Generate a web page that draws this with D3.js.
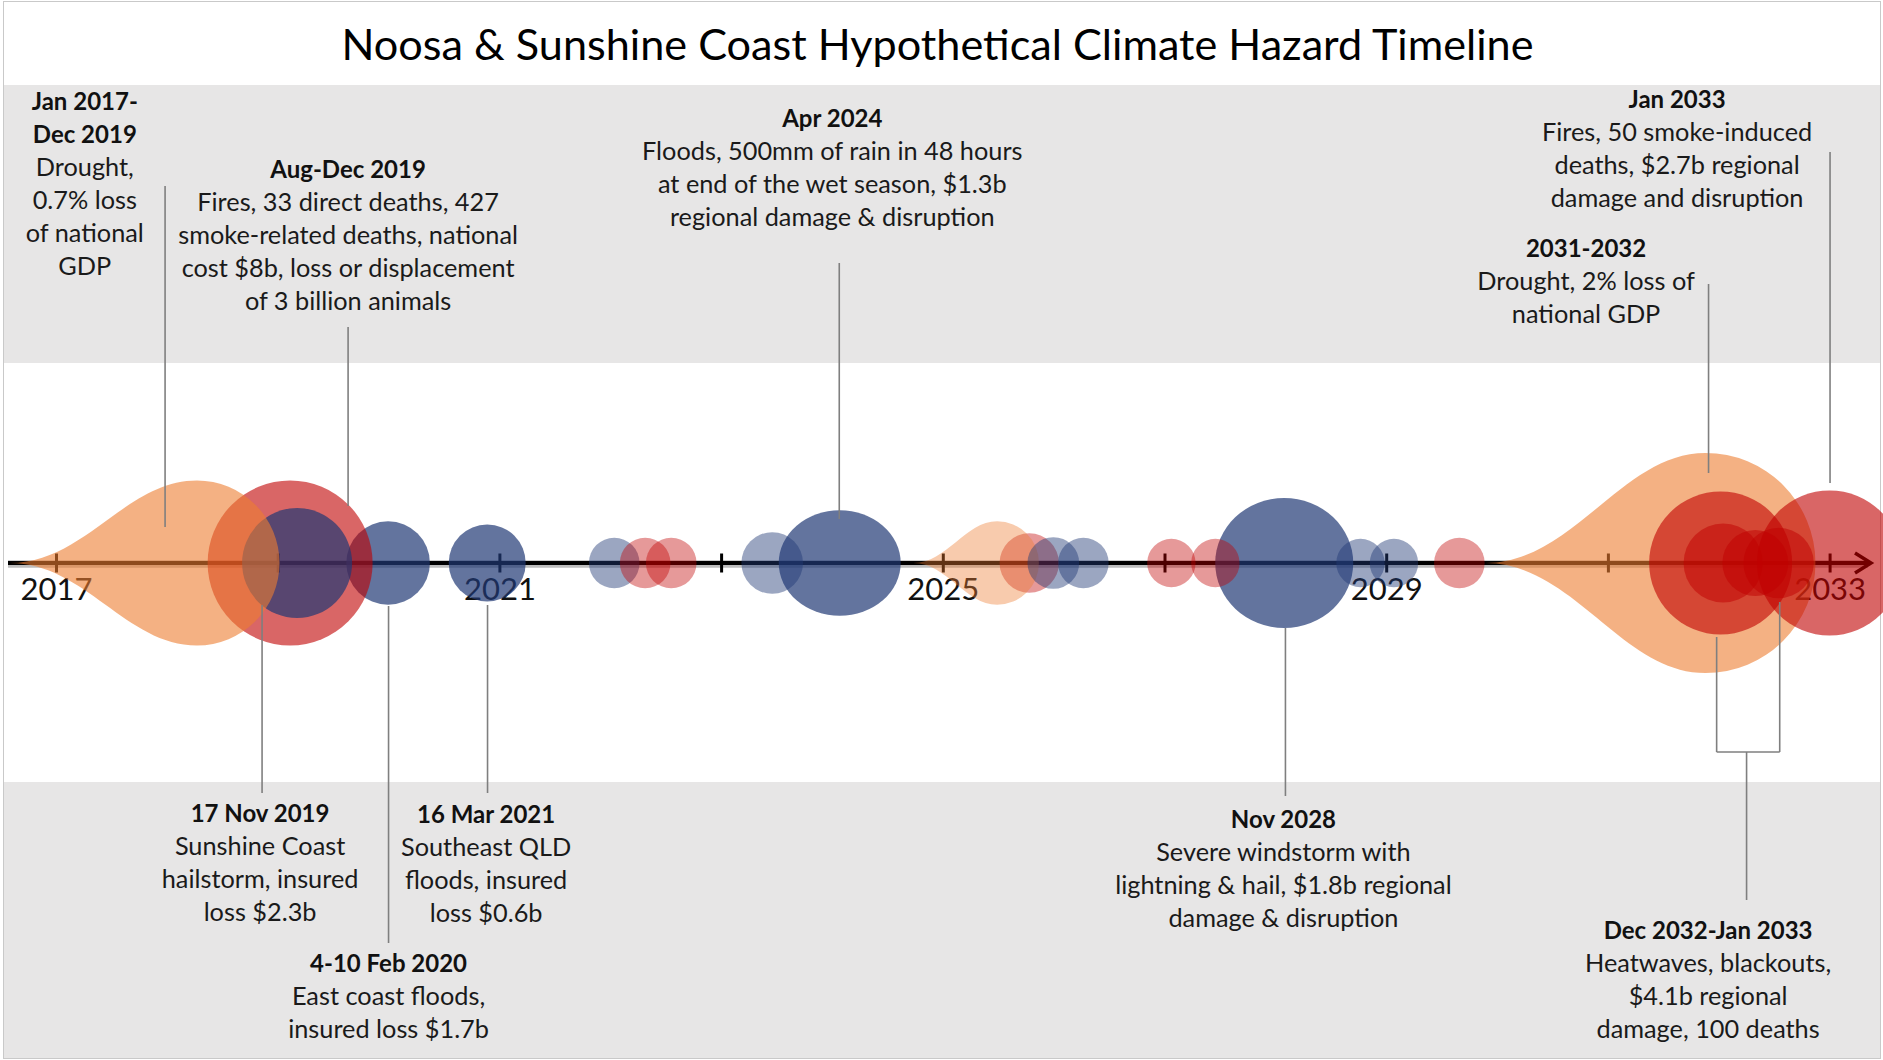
<!DOCTYPE html>
<html><head><meta charset="utf-8">
<script src="https://cdn.jsdelivr.net/npm/d3@7"></script>
<style>
html,body{margin:0;padding:0;background:#fff;}
svg{display:block;}
text{font-family:Lato,"Open Sans",sans-serif;}
</style></head><body>
<div id="chart"></div>
<script>
// ---------------- DATA ----------------
const titleText = "Noosa & Sunshine Coast Hypothetical Climate Hazard Timeline";
const tickYears = [2017, 2019, 2021, 2023, 2025, 2027, 2029, 2031, 2033];
const labelYears = [2017, 2021, 2025, 2029, 2033];

// hazard marks, in drawing order (bottom to top)
const markYear     = [2019.996, 2019.112, 2019.175, 2018.272, 2020.89, 2022.036, 2022.315, 2022.55, 2023.461, 2024.07, 2025.78, 2025.49, 2025.997, 2026.268, 2027.062, 2028.08, 2027.459, 2028.768, 2029.07, 2029.66, 2031.88, 2032.017, 2032.04, 2032.33, 2032.54, 2033.0];
const markSeverity = [3.8, 7.5, 5.0, 7.5, 3.5, 2.3, 2.3, 2.3, 2.8, 4.8, 2.7, 3.8, 2.35, 2.3, 2.2, 5.9, 2.2, 2.2, 2.2, 2.3, 10, 6.5, 3.6, 3.0, 3.2, 6.6];
const markKind     = ["storm","fire","storm","drought","storm","storm","fire","fire","storm","storm","fire","drought","storm","storm","fire","storm","fire","storm","storm","fire","drought","fire","fire","fire","fire","fire"];
const markTier     = ["major","major","major","major","major","minor","minor","minor","minor","major","minor","minor","minor","minor","minor","major","minor","minor","minor","minor","major","major","mid","mid","mid","major"];
const markStart    = [null,null,null,2016.585,null,null,null,null,null,null,null,2024.734,null,null,null,null,null,null,null,null,2029.896,null,null,null,null,null];
const markSpan     = [null,null,null,null,null,null,null,null,null,1.10,null,null,null,null,null,1.245,null,null,null,null,null,null,null,null,null,null];

// annotations
const annoHeads = [["Jan 2017-","Dec 2019"],["Aug-Dec 2019"],["Apr 2024"],["Jan 2033"],["2031-2032"],
                   ["17 Nov 2019"],["16 Mar 2021"],["4-10 Feb 2020"],["Nov 2028"],["Dec 2032-Jan 2033"]];
const annoBodies = [["Drought,","0.7% loss","of national","GDP"],
  ["Fires, 33 direct deaths, 427","smoke-related deaths, national","cost $8b, loss or displacement","of 3 billion animals"],
  ["Floods, 500mm of rain in 48 hours","at end of the wet season, $1.3b","regional damage & disruption"],
  ["Fires, 50 smoke-induced","deaths, $2.7b regional","damage and disruption"],
  ["Drought, 2% loss of","national GDP"],
  ["Sunshine Coast","hailstorm, insured","loss $2.3b"],
  ["Southeast QLD","floods, insured","loss $0.6b"],
  ["East coast floods,","insured loss $1.7b"],
  ["Severe windstorm with","lightning & hail, $1.8b regional","damage & disruption"],
  ["Heatwaves, blackouts,","$4.1b regional","damage, 100 deaths"]];
const annoTextYear   = [2017.26, 2019.635, 2024.003, 2031.624, 2030.803, 2018.841, 2020.88, 2020.0, 2028.073, 2031.904];
const annoLeaderYear = [2017.984, 2019.635, 2024.066, 2033.004, 2031.908, 2018.859, 2020.893, 2020.0, 2028.091, 2032.251];
const bracketYears   = [2031.981, 2032.55];

// ---------------- LAYOUT ----------------
const W = 1883, H = 1060;
const axisY = 563;
const lineGap = 33;
const annoBaseline = [110, 177.7, 126.7, 108, 256.7, 822, 823, 972, 827.7, 939];
const leaderY = [[186,527],[327,506],[263,519],[152,483],[284,473],[605,793],[605,793],[606,943],[628,796],[752,900]];
const bracketY = [[637,752],[602,752]];

const kindColor = {storm:"#213975", fire:"#C00000", drought:"#ED7D31"};
const tierOpacity = {
  storm:{major:0.7, minor:0.45},
  fire:{major:0.6, mid:0.5, minor:0.4},
  drought:{major:0.6, minor:0.4}
};

const x = d3.scaleLinear().domain([2017, 2033]).range([56, 1829.6]);
const r = d3.scaleLinear().domain([0, 10]).range([0, 110]);

const svg = d3.select("#chart").append("svg").attr("width", W).attr("height", H);

// background bands and frame
svg.append("rect").attr("x",0).attr("y",0).attr("width",W).attr("height",H).attr("fill","#fff");
svg.append("rect").attr("x",4).attr("y",85).attr("width",1876).attr("height",278).attr("fill","#E7E6E6");
svg.append("rect").attr("x",4).attr("y",782).attr("width",1876).attr("height",276).attr("fill","#E7E6E6");
svg.append("rect").attr("x",3.5).attr("y",1.5).attr("width",1877).attr("height",1057)
  .attr("fill","none").attr("stroke","#C9C9C9").attr("stroke-width",1);

// title
svg.append("text").attr("x",937.5).attr("y",60).attr("text-anchor","middle")
  .attr("font-size",43.2).attr("fill","#000").text(titleText);

// axis
const axisG = svg.append("g");
axisG.append("line").attr("x1",8).attr("x2",1868).attr("y1",axisY+1).attr("y2",axisY+1)
  .attr("stroke","#BDBDBD").attr("stroke-width",7.5);
axisG.append("line").attr("x1",8).attr("x2",1870).attr("y1",axisY).attr("y2",axisY)
  .attr("stroke","#000").attr("stroke-width",4);
axisG.append("path").attr("d",`M1855,${axisY-10}L1871,${axisY}L1855,${axisY+10}`)
  .attr("fill","none").attr("stroke","#000").attr("stroke-width",3.5).attr("stroke-linejoin","miter");

const axis = d3.axisBottom(x).tickValues(tickYears)
  .tickFormat(d => labelYears.includes(d) ? String(d) : "").tickSize(9.5).tickPadding(0);
const ax = svg.append("g").attr("transform",`translate(0,${axisY})`).call(axis);
ax.select(".domain").remove();
ax.selectAll(".tick line").attr("y1",-9.5).attr("y2",9.5).attr("stroke","#000").attr("stroke-width",3);
ax.selectAll(".tick text").attr("y",37).attr("dy",null).attr("font-size",31)
  .attr("font-family","Lato, sans-serif").attr("fill","#111");

// hazard marks
const marks = markYear.map((y,i)=>({year:y, sev:markSeverity[i], kind:markKind[i], tier:markTier[i], start:markStart[i], span:markSpan[i]}));
const mg = svg.append("g");
marks.forEach(m => {
  const cx = x(m.year), ry = r(m.sev);
  const fill = kindColor[m.kind], op = tierOpacity[m.kind][m.tier];
  if (m.kind === "drought") {
    const tip = x(m.start), L = cx - tip;
    const p = d3.path();
    p.moveTo(tip, axisY);
    p.bezierCurveTo(cx - 0.6*L, axisY, cx - 0.38*L, axisY - ry, cx, axisY - ry);
    p.arc(cx, axisY, ry, -Math.PI/2, Math.PI/2, false);
    p.bezierCurveTo(cx - 0.38*L, axisY + ry, cx - 0.6*L, axisY, tip, axisY);
    p.closePath();
    mg.append("path").attr("d", p.toString()).attr("fill", fill).attr("fill-opacity", op);
  } else {
    const rx = m.span ? (x(m.year + m.span/2) - x(m.year - m.span/2))/2 : ry;
    mg.append("ellipse").attr("cx",cx).attr("cy",axisY).attr("rx",rx).attr("ry",ry)
      .attr("fill",fill).attr("fill-opacity",op);
  }
});

// leaders
const lg = svg.append("g").attr("stroke","#7F7F7F").attr("stroke-width",1.6).attr("fill","none");
annoLeaderYear.forEach((yr,i)=>{
  lg.append("line").attr("x1",x(yr)).attr("x2",x(yr)).attr("y1",leaderY[i][0]).attr("y2",leaderY[i][1]);
});
bracketYears.forEach((yr,i)=>{
  lg.append("line").attr("x1",x(yr)).attr("x2",x(yr)).attr("y1",bracketY[i][0]).attr("y2",bracketY[i][1]);
});
lg.append("line").attr("x1",x(bracketYears[0])).attr("x2",x(bracketYears[1])).attr("y1",752).attr("y2",752);

// annotation text
const tg = svg.append("g").attr("text-anchor","middle").attr("fill","#1a1a1a");
annoHeads.forEach((heads,i)=>{
  const cx = x(annoTextYear[i]);
  let yy = annoBaseline[i];
  heads.forEach(h=>{ tg.append("text").attr("x",cx).attr("y",yy).attr("font-size",24).attr("font-weight",700).attr("fill","#111").text(h); yy += lineGap; });
  annoBodies[i].forEach(b=>{ tg.append("text").attr("x",cx).attr("y",yy).attr("font-size",25.3).text(b); yy += lineGap; });
});
</script>
</body></html>
